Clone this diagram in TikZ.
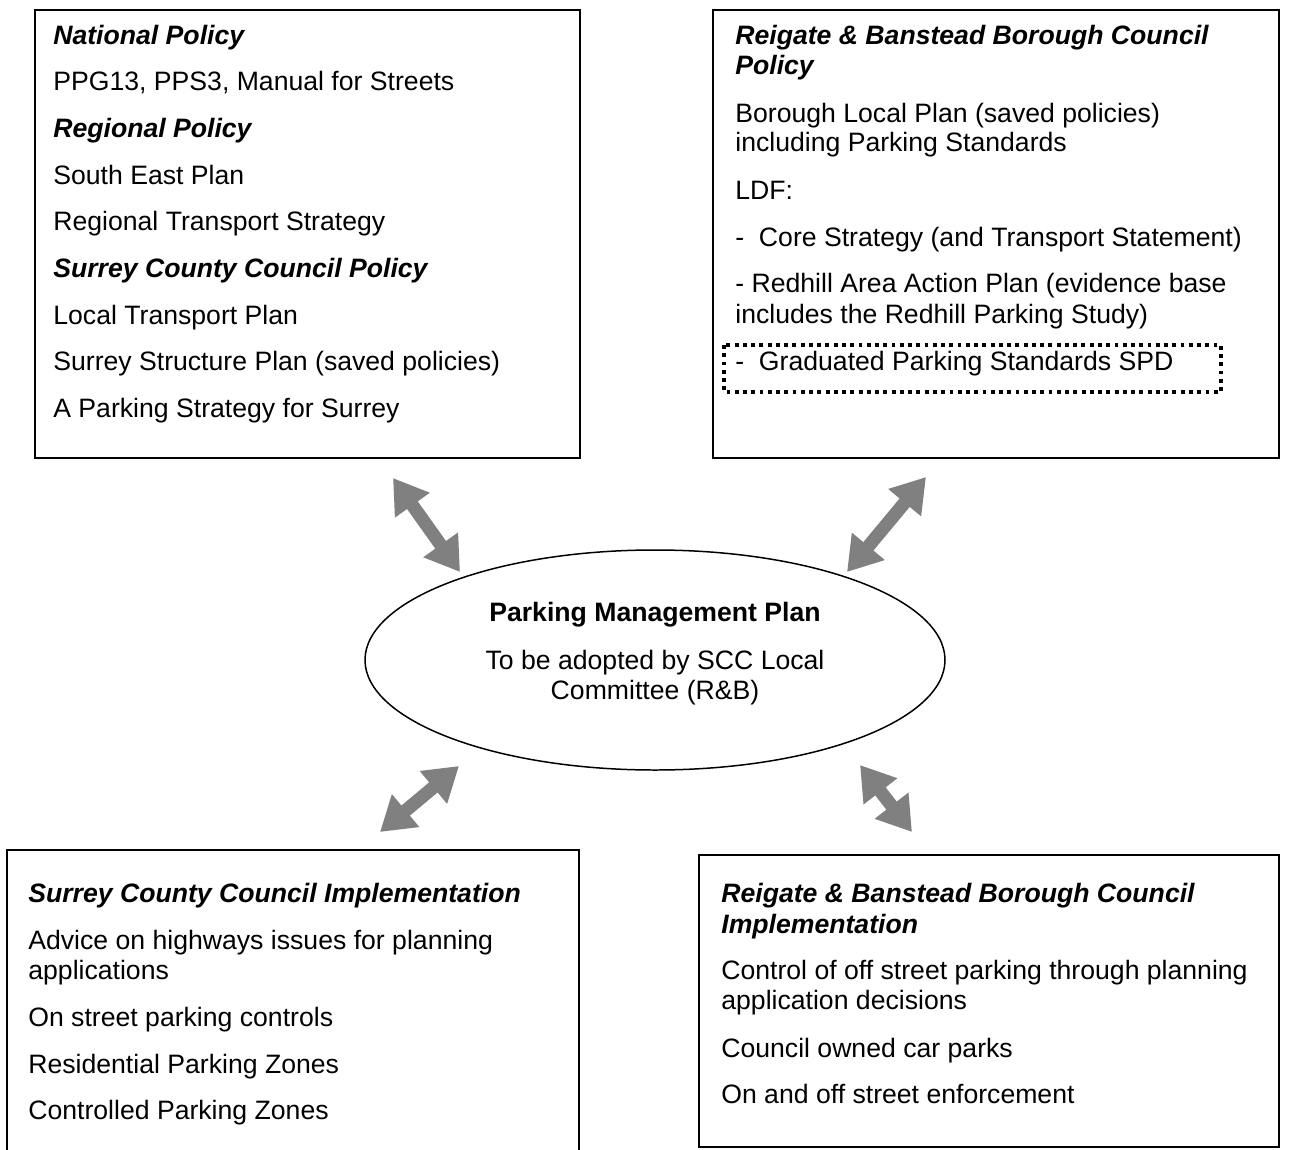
\documentclass[tikz,border=0pt]{standalone}
\usepackage{fontspec}
\setmainfont{Liberation Sans}
\usetikzlibrary{arrows.meta}

\definecolor{arrowgray}{RGB}{128,128,128}

\tikzset{
  panel/.style={draw=black, line width=0.85pt},
  txt/.style={anchor=base west, inner sep=0pt, font=\fontsize{15.15}{17}\selectfont},
  head/.style={txt, font=\fontsize{15.15}{17}\selectfont\bfseries\itshape},
  ctxt/.style={anchor=base, inner sep=0pt, font=\fontsize{15.15}{17}\selectfont},
  link/.style={draw=arrowgray, line width=7.5pt,
    {Triangle[length=19pt, width=23pt]}-{Triangle[length=19pt, width=23pt]}}
}

\begin{document}
\begin{tikzpicture}[x=0.02cm, y=-0.02cm]
  \useasboundingbox (0,0) rectangle (1301,1149);

  % boxes
  \draw[panel] (35,10) rectangle (580,458);
  \draw[panel] (713,10) rectangle (1279,458);
  \draw[panel] (7,1160) -- (7,850) -- (579,850) -- (579,1160);
  \draw[panel] (699,855) rectangle (1279,1147);
  \draw[black, line width=2.2pt, dash pattern=on 2.2pt off 2.5pt] (724,345) rectangle (1221,392);

  % national, regional and county policy
  \node[head] (np) at (53,45) {National Policy};
  \node[txt] (np1) at (53,91) {PPG13, PPS3, Manual for Streets};
  \node[head] (rp) at (53,137) {Regional Policy};
  \node[txt] (rp1) at (53,184) {South East Plan};
  \node[txt] (rp2) at (53,230) {Regional Transport Strategy};
  \node[head] (cp) at (53,277) {Surrey County Council Policy};
  \node[txt] (cp1) at (53,324) {Local Transport Plan};
  \node[txt] (cp2) at (53,370) {Surrey Structure Plan (saved policies)};
  \node[txt] (cp3) at (53,417) {A Parking Strategy for Surrey};

  % borough policy
  \node[head] (bp) at (735,45) {Reigate \& Banstead Borough Council};
  \node[head] (bpb) at (735,75) {Policy};
  \node[txt] (bp1) at (735,122) {Borough Local Plan (saved policies)};
  \node[txt] (bp1b) at (735,152) {including Parking Standards};
  \node[txt] (bp2) at (735,199) {LDF:};
  \node[txt] (bp3) at (735,246) {-\ \ Core Strategy (and Transport Statement)};
  \node[txt] (bp4) at (735,292) {- Redhill Area Action Plan (evidence base};
  \node[txt] (bp4b) at (735,323) {includes the Redhill Parking Study)};
  \node[txt] (bp5) at (735,370) {-\ \ Graduated Parking Standards SPD};

  % plan
  \draw[black, line width=0.85pt] (655,660) ellipse [x radius=290, y radius=110];
  \node[ctxt, font=\fontsize{15.15}{17}\selectfont\bfseries] (pmp) at (655,621) {Parking Management Plan};
  \node[ctxt] (pmp1) at (655,669) {To be adopted by SCC Local};
  \node[ctxt] (pmp2) at (655,699) {Committee (R\&B)};

  % county implementation
  \node[head] (ci) at (28,902) {Surrey County Council Implementation};
  \node[txt] (ci1) at (28,949) {Advice on highways issues for planning};
  \node[txt] (ci1b) at (28,979) {applications};
  \node[txt] (ci2) at (28,1026) {On street parking controls};
  \node[txt] (ci3) at (28,1073) {Residential Parking Zones};
  \node[txt] (ci4) at (28,1119) {Controlled Parking Zones};

  % borough implementation
  \node[head] (bi) at (721,902) {Reigate \& Banstead Borough Council};
  \node[head] (bib) at (721,933) {Implementation};
  \node[txt] (bi1) at (721,979) {Control of off street parking through planning};
  \node[txt] (bi1b) at (721,1009) {application decisions};
  \node[txt] (bi2) at (721,1057) {Council owned car parks};
  \node[txt] (bi3) at (721,1103) {On and off street enforcement};

  % links
  \coordinate (tlA) at (393,478);
  \coordinate (tlB) at (460,572);
  \coordinate (trA) at (926,477);
  \coordinate (trB) at (847,572);
  \coordinate (blA) at (459,766);
  \coordinate (blB) at (380,832);
  \coordinate (brA) at (860,765);
  \coordinate (brB) at (912,832);
  \draw[link] (tlA) -- (tlB);
  \draw[link] (trA) -- (trB);
  \draw[link] (blA) -- (blB);
  \draw[link] (brA) -- (brB);
\end{tikzpicture}
\end{document}
